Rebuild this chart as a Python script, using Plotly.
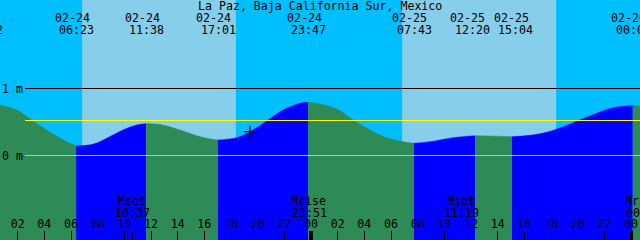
import plotly.graph_objects as go

# ---------------- data ----------------
station = "La Paz, Baja California Sur, Mexico"

# tide events (high / low) : date, time, height (m)
tide_event_dates = ["02-23", "02-24", "02-24", "02-24", "02-24", "02-25", "02-25", "02-25", "02-26"]
tide_event_times = ["23:32", "06:23", "11:38", "17:01", "23:47", "07:43", "12:20", "15:04", "00:08"]
tide_event_m = [0.800, 0.142, 0.475, 0.231, 0.794, 0.182, 0.296, 0.281, 0.746]

# tide curve samples between events: hours since 02-24 00:00, height (m)
curve_hours = [1.93, 3.15, 4.43, 5.68, 7.65, 8.68, 9.90, 10.93, 12.68, 14.18, 15.68,
               18.43, 19.43, 20.68, 21.92, 23.18, 24.68, 25.93, 27.17, 28.43, 29.68,
               30.92, 32.92, 34.67, 38.18, 40.43, 41.68, 42.92, 44.18, 45.43, 46.67, 49.00]
curve_m = [0.679, 0.515, 0.346, 0.206, 0.167, 0.257, 0.381, 0.455, 0.463, 0.381, 0.281,
           0.266, 0.355, 0.515, 0.679, 0.779, 0.769, 0.694, 0.530, 0.381, 0.266,
           0.206, 0.206, 0.266, 0.287, 0.301, 0.346, 0.430, 0.530, 0.630, 0.713, 0.730]

# sun (daylight intervals)
sun_dates = ["02-24", "02-24", "02-25", "02-25"]
sun_times = ["06:50", "18:22", "06:50", "18:23"]

# moon events
moon_names = ["Mset", "Mrise", "Mset", "Mrise"]
moon_dates = ["02-24", "02-24", "02-25", "02-26"]
moon_times = ["10:37", "23:51", "11:19", "00:58"]

# current-time mark
now_date, now_time, now_m = "02-24", "19:26", 0.355

# reference levels
level_1m = 1.0
level_0m = 0.0
level_mid = 0.522

hour_ticks = list(range(2, 49, 2))
midnight_ticks = [24, 48]

# ---------------- helpers ----------------
X0, X1 = 0.675, 48.675          # visible time span (hours since 02-24 00:00)
Y0, Y1 = -1.2612, 2.3209        # visible height span (m)
W, H = 640, 240
MIN_LABEL_GAP = 43.5            # px between centres of neighbouring event labels


def hours(date, hm):
    day = int(date[3:]) - 24
    hh, mm = hm.split(":")
    return day * 24 + int(hh) + int(mm) / 60.0


def xpaper(h):
    return (h - X0) / (X1 - X0)


def ypaper(px_row):
    return 1 - px_row / H


FONT = dict(family="DejaVu Sans Mono", size=11.6, color="black")
NIGHT = "#00BFFF"
DAY = "#87CEEB"
FLOOD = "#0000FF"
EBB = "#2E8B57"

ev_h = [hours(d, t) for d, t in zip(tide_event_dates, tide_event_times)]
pts = sorted(list(zip(ev_h, tide_event_m)) + list(zip(curve_hours, curve_m)))

fig = go.Figure()

# ---------------- tide fill, split at every high / low ----------------
bounds = [pts[0][0]] + ev_h[1:] + [pts[-1][0]]
for a, b in zip(bounds[:-1], bounds[1:]):
    seg = [p for p in pts if a - 1e-9 <= p[0] <= b + 1e-9]
    if len(seg) < 2:
        continue
    rising = seg[-1][1] > seg[0][1]
    col = FLOOD if rising else EBB
    fig.add_trace(go.Scatter(x=[seg[0][0], seg[-1][0]], y=[-2, -2], mode="lines",
                             line=dict(width=0, color=col), hoverinfo="skip", showlegend=False))
    fig.add_trace(go.Scatter(x=[p[0] for p in seg], y=[p[1] for p in seg], mode="lines",
                             line=dict(width=0.5, color=col, shape="spline"),
                             fill="tonexty", fillcolor=col, hoverinfo="skip", showlegend=False))

# current time "+"
fig.add_trace(go.Scatter(x=[hours(now_date, now_time)], y=[now_m], mode="markers",
                         marker=dict(symbol="cross-thin", size=9, line=dict(width=1.2, color="black")),
                         hoverinfo="skip", showlegend=False))

# dummy trace for the midnight axis
fig.add_trace(go.Scatter(x=[], y=[], xaxis="x2", showlegend=False))

shapes = []
# daylight bands
sun_h = [hours(d, t) for d, t in zip(sun_dates, sun_times)]
for s0, s1 in zip(sun_h[0::2], sun_h[1::2]):
    shapes.append(dict(type="rect", xref="x", yref="paper", x0=s0, x1=s1, y0=0, y1=1,
                       fillcolor=DAY, line=dict(width=0), layer="below"))
# reference lines
for lv, c in [(level_1m, "black"), (level_mid, "#FFFF00"), (level_0m, "#87CEFA")]:
    shapes.append(dict(type="line", xref="paper", yref="y", x0=25 / W, x1=1, y0=lv, y1=lv,
                       line=dict(color=c, width=1), layer="above"))

# push apart event labels that would collide
px = [xpaper(h) * W for h in ev_h]
push = [0.0] * len(px)
for i in range(len(px) - 1):
    gap = (px[i + 1] + push[i + 1]) - (px[i] + push[i])
    if gap < MIN_LABEL_GAP:
        d = (MIN_LABEL_GAP - gap) / 2
        push[i] -= d
        push[i + 1] += d

ann = []
ann.append(dict(text=station, xref="paper", yref="paper", x=0.5, y=ypaper(5.5),
                xanchor="center", yanchor="middle", showarrow=False, font=FONT))
for d, t, h, s in zip(tide_event_dates, tide_event_times, ev_h, push):
    ann.append(dict(text=d, xref="paper", yref="paper", x=xpaper(h), y=ypaper(18),
                    xanchor="center", yanchor="middle", xshift=-4 + s, showarrow=False, font=FONT))
    ann.append(dict(text=t, xref="paper", yref="paper", x=xpaper(h), y=ypaper(30),
                    xanchor="center", yanchor="middle", xshift=0.5 + s, showarrow=False, font=FONT))
moon_h = [hours(d, t) for d, t in zip(moon_dates, moon_times)]
for n, t, h in zip(moon_names, moon_times, moon_h):
    ann.append(dict(text=n, xref="paper", yref="paper", x=xpaper(h), y=ypaper(201.3),
                    xanchor="center", yanchor="middle", xshift=-1, showarrow=False, font=FONT))
    ann.append(dict(text=t, xref="paper", yref="paper", x=xpaper(h), y=ypaper(213.3),
                    xanchor="center", yanchor="middle", showarrow=False, font=FONT))
for lv, lab in [(level_1m, "1 m"), (level_0m, "0 m")]:
    ann.append(dict(text=lab, xref="paper", yref="y", x=0, y=lv, xanchor="left",
                    yanchor="middle", showarrow=False, font=FONT))

fig.update_layout(
    width=W, height=H, margin=dict(l=0, r=0, t=0, b=0),
    paper_bgcolor=NIGHT, plot_bgcolor=NIGHT, showlegend=False,
    shapes=shapes, annotations=ann,
    xaxis=dict(range=[X0, X1], showgrid=False, zeroline=False, showline=False,
               tickmode="array", tickvals=hour_ticks,
               ticktext=["%02d" % (h % 24) for h in hour_ticks],
               ticks="inside", ticklen=9, tickwidth=1, tickcolor="black",
               ticklabelposition="inside", tickfont=FONT,
               minor=dict(tickmode="array", tickvals=moon_h, ticks="inside",
                          ticklen=9, tickwidth=1, tickcolor="black", showgrid=False)),
    xaxis2=dict(range=[X0, X1], overlaying="x", anchor="y", side="bottom",
                showgrid=False, zeroline=False, showline=False,
                tickmode="array", tickvals=midnight_ticks, showticklabels=False,
                ticks="inside", ticklen=9, tickwidth=3, tickcolor="black"),
    yaxis=dict(range=[Y0, Y1], visible=False),
)

fig.write_html("out.html")
